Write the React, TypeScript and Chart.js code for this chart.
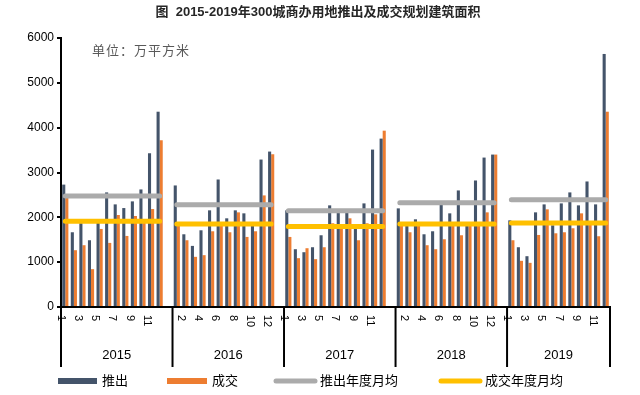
import React, { useEffect, useRef } from 'react';
import { Chart, registerables } from 'chart.js';

Chart.register(...registerables);

const years = ['2015', '2016', '2017', '2018', '2019'];
const months = ['1', '2', '3', '4', '5', '6', '7', '8', '9', '10', '11', '12'];

const launch2015 = [2730, 1667, 1870, 1489, 1880, 2556, 2289, 2207, 2356, 2622, 3430, 4356];
const deal2015 = [2450, 1267, 1378, 844, 1741, 1430, 2052, 1585, 2030, 1963, 2185, 3719];
const launch2016 = [2711, 1622, 1363, 1711, 2156, 2844, 1978, 2156, 2089, 1822, 3289, 3467];
const deal2016 = [1850, 1489, 1119, 1156, 1689, 1830, 1667, 2111, 1563, 1689, 2489, 3407];
const launch2017 = [2156, 1289, 1222, 1333, 1600, 2267, 2096, 2111, 1748, 2311, 3511, 3756];
const deal2017 = [1563, 1089, 1311, 1067, 1333, 1867, 1760, 1978, 1489, 1867, 2067, 3933];
const launch2018 = [2200, 1840, 1956, 1622, 1689, 2289, 2089, 2600, 1815, 2822, 3333, 3400];
const deal2018 = [1850, 1667, 1840, 1378, 1289, 1511, 1845, 1600, 1815, 1815, 2111, 3400];
const launch2019 = [1933, 1333, 1133, 2111, 2289, 1822, 2311, 2556, 2267, 2800, 2289, 5644];
const deal2019 = [1489, 1030, 985, 1607, 2178, 1644, 1667, 1756, 2089, 1870, 1578, 4356];

const launchYearAvg = [2474, 2281, 2148, 2326, 2393];
const dealYearAvg = [1911, 1852, 1793, 1852, 1874];

const launchByYear = [launch2015, launch2016, launch2017, launch2018, launch2019];
const dealByYear = [deal2015, deal2016, deal2017, deal2018, deal2019];

const TITLE = '图  2015-2019年300城商办用地推出及成交规划建筑面积';
const UNIT = '单位：万平方米';
const LEGEND = ['推出', '成交', '推出年度月均', '成交年度月均'];

const C_LAUNCH = '#44546a';
const C_DEAL = '#ed7d31';
const C_LAUNCH_AVG = '#ababab';
const C_DEAL_AVG = '#ffc000';
const FONT = '"Liberation Sans", "Noto Sans CJK SC", sans-serif';

// Build flat series: 12 months per year plus an empty slot between years
const labels: string[] = [];
const launch: (number | null)[] = [];
const deal: (number | null)[] = [];
const launchAvg: (number | null)[] = [];
const dealAvg: (number | null)[] = [];
const yearStart: number[] = [];
years.forEach((y, k) => {
  yearStart.push(labels.length);
  months.forEach((m, j) => {
    labels.push(m);
    launch.push(launchByYear[k][j]);
    deal.push(dealByYear[k][j]);
    launchAvg.push(launchYearAvg[k]);
    dealAvg.push(dealYearAvg[k]);
  });
  if (k < years.length - 1) {
    labels.push('');
    launch.push(null);
    deal.push(null);
    launchAvg.push(null);
    dealAvg.push(null);
  }
});

const decorPlugin = {
  id: 'decor',
  afterDraw(chart: any) {
    const ctx = chart.ctx;
    const area = chart.chartArea;
    const xs = chart.scales.x;
    const n = labels.length;
    const slot = (area.right - area.left) / n;
    ctx.save();

    // Title
    ctx.fillStyle = '#262626';
    ctx.font = `bold 13px ${FONT}`;
    ctx.textAlign = 'center';
    ctx.textBaseline = 'middle';
    ctx.fillText(TITLE, 318, 12);

    // Unit
    ctx.fillStyle = '#595959';
    ctx.font = `13px ${FONT}`;
    ctx.textAlign = 'left';
    (ctx as any).letterSpacing = '1px';
    ctx.fillText(UNIT, 92, 51);
    (ctx as any).letterSpacing = '0px';

    // Month labels (rotated clockwise)
    ctx.fillStyle = '#000';
    ctx.font = `11px ${FONT}`;
    labels.forEach((lab, i) => {
      if (!lab || i % 2 !== 0) return;
      const x = xs.getPixelForValue(i) - slot / 2;
      ctx.save();
      ctx.translate(x, area.bottom + 8);
      ctx.rotate(Math.PI / 2);
      ctx.textAlign = 'left';
      ctx.textBaseline = 'middle';
      ctx.fillText(lab, 0, 0);
      ctx.restore();
    });

    // Year separators and labels
    const bounds = [...yearStart, n].map((s, idx) =>
      idx === 0 ? area.left : idx === yearStart.length ? area.right : area.left + s * slot
    );
    ctx.strokeStyle = '#000';
    ctx.lineWidth = 2;
    bounds.forEach((bx) => {
      ctx.beginPath();
      ctx.moveTo(bx, area.bottom);
      ctx.lineTo(bx, area.bottom + 60);
      ctx.stroke();
    });
    ctx.font = `13px ${FONT}`;
    ctx.textAlign = 'center';
    ctx.textBaseline = 'middle';
    years.forEach((y, k) => {
      ctx.fillText(y, (bounds[k] + bounds[k + 1]) / 2, area.bottom + 48);
    });

    // Legend
    const ly = 381;
    ctx.font = `13px ${FONT}`;
    ctx.textAlign = 'left';
    ctx.fillStyle = C_LAUNCH;
    ctx.fillRect(58, ly - 3, 39, 6);
    ctx.fillStyle = C_DEAL;
    ctx.fillRect(167, ly - 3, 40, 6);
    ctx.lineCap = 'round';
    ctx.lineWidth = 5;
    ctx.strokeStyle = C_LAUNCH_AVG;
    ctx.beginPath();
    ctx.moveTo(276, ly);
    ctx.lineTo(315, ly);
    ctx.stroke();
    ctx.strokeStyle = C_DEAL_AVG;
    ctx.beginPath();
    ctx.moveTo(441, ly);
    ctx.lineTo(480, ly);
    ctx.stroke();
    ctx.fillStyle = '#000';
    ctx.fillText(LEGEND[0], 102, ly);
    ctx.fillText(LEGEND[1], 212, ly);
    ctx.fillText(LEGEND[2], 320, ly);
    ctx.fillText(LEGEND[3], 485, ly);

    ctx.restore();
  },
};

export default function App() {
  const ref = useRef<HTMLCanvasElement | null>(null);
  useEffect(() => {
    if (!ref.current) return;
    const chart = new Chart(ref.current, {
      type: 'bar',
      data: {
        labels,
        datasets: [
          {
            type: 'bar',
            label: LEGEND[0],
            data: launch,
            backgroundColor: C_LAUNCH,
            categoryPercentage: 0.72,
            barPercentage: 1,
            order: 2,
          },
          {
            type: 'bar',
            label: LEGEND[1],
            data: deal,
            backgroundColor: C_DEAL,
            categoryPercentage: 0.72,
            barPercentage: 1,
            order: 2,
          },
          {
            type: 'line',
            label: LEGEND[2],
            data: launchAvg,
            borderColor: C_LAUNCH_AVG,
            borderWidth: 5,
            borderCapStyle: 'round',
            pointRadius: 0,
            spanGaps: false,
            order: 1,
          },
          {
            type: 'line',
            label: LEGEND[3],
            data: dealAvg,
            borderColor: C_DEAL_AVG,
            borderWidth: 5,
            borderCapStyle: 'round',
            pointRadius: 0,
            spanGaps: false,
            order: 0,
          },
        ] as any,
      },
      options: {
        responsive: true,
        maintainAspectRatio: false,
        animation: false,
        layout: { padding: { top: 38, right: 30, bottom: 88, left: 0 } },
        plugins: {
          legend: { display: false },
          tooltip: { enabled: false },
          title: { display: false },
        },
        scales: {
          x: {
            grid: { display: false },
            ticks: { display: false },
            border: { display: true, color: '#000', width: 2 },
            afterFit: (s: any) => {
              s.height = 0;
            },
          },
          y: {
            min: 0,
            max: 6000,
            ticks: {
              stepSize: 1000,
              color: '#000',
              font: { size: 12, family: FONT },
              padding: 3,
              callback: (v: any) => String(v),
            },
            grid: {
              drawOnChartArea: false,
              drawTicks: true,
              tickLength: 4,
              color: '#000',
              lineWidth: 2,
            },
            border: { display: true, color: '#000', width: 2 },
            afterFit: (s: any) => {
              s.width = 61;
            },
          },
        },
      } as any,
      plugins: [decorPlugin],
    });
    return () => chart.destroy();
  }, []);
  return (
    <div style={{ position: 'absolute', left: 0, top: 0, width: 640, height: 395, background: '#fff' }}>
      <canvas ref={ref} />
    </div>
  );
}
